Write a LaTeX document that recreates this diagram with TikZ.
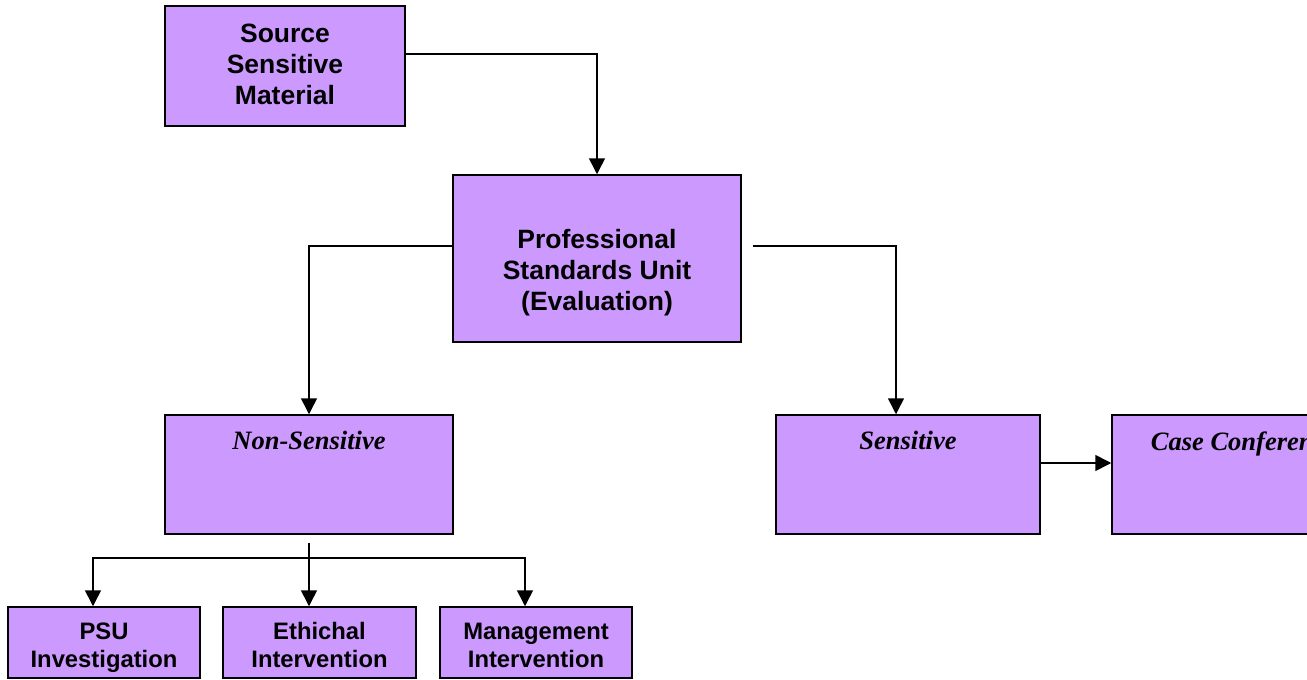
\documentclass[tikz,border=0pt]{standalone}
\usepackage{fontspec}
\setmainfont{Liberation Serif}
\setsansfont{Liberation Sans}
\usetikzlibrary {arrows.meta}
\usetikzlibrary {calc}
\definecolor{boxfill}{HTML}{CC99FF}

\begin{document}
\begin{tikzpicture}[x=1pt, y=-1pt, >={Triangle[length=16pt, width=16pt]},
        box/.style={draw, fill=boxfill, line width=1.5pt, inner sep=0pt},
        boxtext/.style={align=center, inner sep=0pt,
            font=\sffamily\bfseries\fontsize{26.5}{31}\selectfont},
        smalltext/.style={align=center, inner sep=0pt, yshift=-5.5pt,
            font=\sffamily\bfseries\fontsize{23.8}{28}\selectfont},
        toptext/.style={anchor=north, yshift=-17pt, inner sep=0pt,
            font=\rmfamily\bfseries\itshape\fontsize{26.5}{31}\selectfont},
        link/.style={line width=1.5pt}]
    \useasboundingbox (0, 0) rectangle (1307, 680);

    % top of the chart
    \node[box, minimum width=240pt, minimum height=120pt,
        label={[boxtext, yshift=2pt]center:Source\\Sensitive\\Material}]
        (src) at (285, 66) {};
    \node[box, minimum width=288pt, minimum height=167pt,
        label={[boxtext, yshift=-14pt]center:Professional\\Standards Unit\\(Evaluation)}]
        (eval) at (597, 258.5) {};

    % outcome of the evaluation
    \node[box, minimum width=288pt, minimum height=119pt,
        label={[toptext]north:Non-Sensitive}] (nonsens) at (309, 474.5) {};
    \node[box, minimum width=264pt, minimum height=119pt,
        label={[toptext]north:Sensitive}] (sens) at (908, 474.5) {};
    \node[box, minimum width=264pt, minimum height=119pt,
        label={[toptext]north:Case Conference}] (case) at (1244, 474.5) {};

    % non-sensitive routes
    \node[box, minimum width=192pt, minimum height=71pt,
        label={[smalltext]center:\strut PSU\\\strut Investigation}] (psu) at (104, 642.5) {};
    \node[box, minimum width=193pt, minimum height=71pt,
        label={[smalltext]center:\strut Ethichal\\\strut Intervention}] (ethic) at (319.5, 642.5) {};
    \node[box, minimum width=192pt, minimum height=71pt,
        label={[smalltext]center:\strut Management\\\strut Intervention}] (mgmt) at (536, 642.5) {};

    \coordinate (split) at (309, 558);

    \draw[link, ->] ([yshift=12pt]src.east) -| (eval.north);
    \draw[link, ->] ([yshift=12.5pt]eval.west) -| (nonsens.north);
    \draw[link, ->] ([xshift=11pt, yshift=12.5pt]eval.east) -| ([xshift=-12pt]sens.north);
    \draw[link, ->] ([yshift=11.5pt]sens.east) -- ([yshift=11.5pt]case.west);

    \draw[link] ([yshift=-8pt]nonsens.south) -- (split);
    \draw[link, ->] (split) -| ([xshift=-11pt]psu.north);
    \draw[link, ->] (split) -- (split |- ethic.north);
    \draw[link, ->] (split) -| ([xshift=-11pt]mgmt.north);
\end{tikzpicture}
\end{document}
